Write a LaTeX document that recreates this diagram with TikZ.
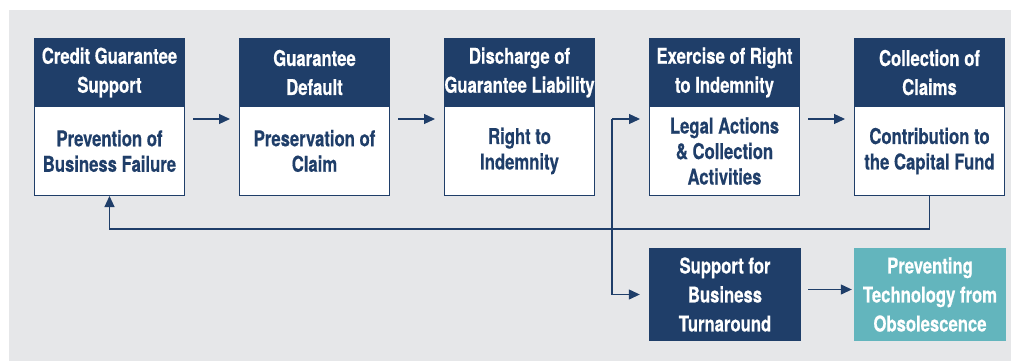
\documentclass[tikz,border=0pt]{standalone}
\usepackage{fontspec}
\setmainfont{TeX Gyre Heros}[FakeStretch=0.765,BoldFeatures={FakeBold=0.4}]
\usetikzlibrary{arrows.meta,calc}
\definecolor{navy}{RGB}{31,62,105}
\definecolor{teal2}{RGB}{99,181,189}
\definecolor{panel}{RGB}{230,231,233}
\tikzset{
  hdr/.style={fill=navy,text=white,minimum width=151pt,minimum height=69pt,inner sep=0pt,
    align=center,font=\bfseries\fontsize{21.8}{29}\selectfont},
  body/.style={fill=white,draw=navy,line width=1pt,text=navy,minimum width=150pt,minimum height=89pt,inner sep=0pt,
    align=center,font=\bfseries\fontsize{21.8}{25.5}\selectfont},
  dark/.style={fill=navy,text=white,minimum width=152pt,minimum height=93pt,inner sep=0pt,
    align=center,font=\bfseries\fontsize{21.8}{29}\selectfont},
  light/.style={fill=teal2,text=white,minimum width=152pt,minimum height=93pt,inner sep=0pt,
    align=center,font=\bfseries\fontsize{21.8}{29}\selectfont},
  arr/.style={draw=navy,line width=1.2pt,-{Triangle[length=11pt,width=10pt]}},
  ln/.style={draw=navy,line width=1.2pt}
}
\begin{document}
\begin{tikzpicture}[x=1pt,y=-1pt]
\useasboundingbox (0,0) rectangle (1016,361);
\fill[panel] (9,10) rectangle (1011,361);
% top row
\node[hdr] (h1) at (109.5,72.5) {Credit Guarantee\\Support};
\node[body,anchor=north] (w1) at (109.5,106) {Prevention of\\Business Failure};
\node[hdr] (h2) at (314.5,72.5) {Guarantee\\Default};
\node[body,anchor=north] (w2) at (314.5,106) {Preservation of\\Claim};
\node[hdr] (h3) at (519.5,72.5) {Discharge of\\Guarantee Liability};
\node[body,anchor=north] (w3) at (519.5,106) {Right to\\Indemnity};
\node[hdr] (h4) at (724.5,72.5) {Exercise of Right\\to Indemnity};
\node[body,anchor=north] (w4) at (724.5,106) {Legal Actions\\\& Collection\\Activities};
\node[hdr] (h5) at (929.5,72.5) {Collection of\\Claims};
\node[body,anchor=north] (w5) at (929.5,106) {Contribution to\\the Capital Fund};
% bottom row
\node[dark] (sup) at (725,294.5) {Support for\\Business\\Turnaround};
\node[light] (tech) at (930,294.5) {Preventing\\Technology from\\Obsolescence};
% arrows
\draw[arr] ($(w1.north east)+(8,13)$) -- ($(w2.north west)+(-9,13)$);
\draw[arr] ($(w2.north east)+(8,13)$) -- ($(w3.north west)+(-9,13)$);
\draw[arr] ($(w4.north east)+(8,13)$) -- ($(w5.north west)+(-9,13)$);
\coordinate (br) at (612,119);
\draw[arr] (br) -- ($(w4.north west)+(-9,13)$);
\draw[arr] (br) |- ($(sup.west)+(-9,0)$);
\draw[arr] ($(sup.east)+(7,-5)$) -- ($(tech.west)+(-2,-5)$);
\draw[arr] (w5.south) -- ++(0,33) -| (w1.south);
\end{tikzpicture}
\end{document}
